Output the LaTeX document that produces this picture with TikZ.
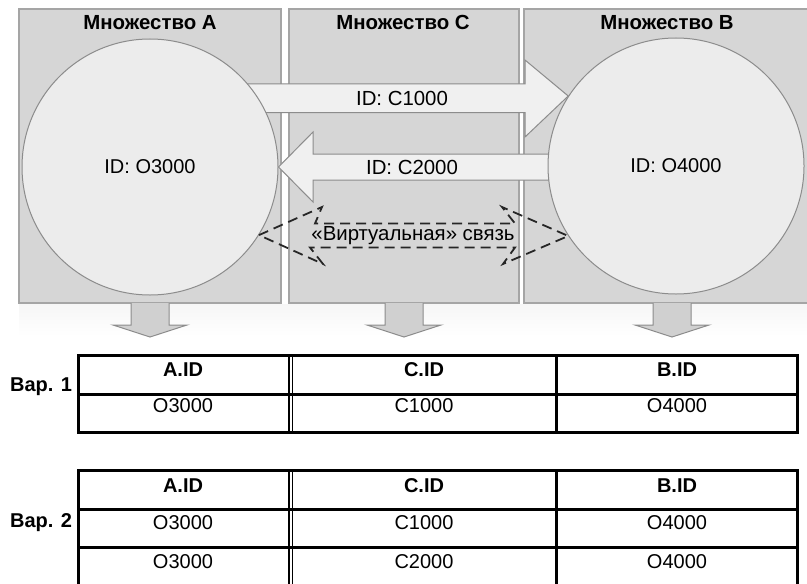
\documentclass[tikz,border=0pt]{standalone}
\usepackage{fontspec}
\setmainfont{Liberation Sans}
\usetikzlibrary{calc}
\definecolor{panelgray}{RGB}{214, 214, 214}
\definecolor{panelline}{RGB}{165, 165, 165}
\definecolor{blobfill}{RGB}{236, 236, 236}
\definecolor{blobline}{RGB}{140, 140, 140}
\definecolor{arrowfill}{RGB}{240, 240, 240}
\definecolor{downfill}{RGB}{208, 208, 208}

\begin{document}
\begin{tikzpicture}[
    x=0.5pt, y=-0.5pt,
    panel/.style={draw=panelline, fill=panelgray, line width=0.6pt},
    title/.style={anchor=base, font=\fontsize{10.2}{12}\selectfont\bfseries},
    blob/.style={circle, draw=blobline, fill=blobfill, line width=0.5pt,
                 minimum size=128pt, inner sep=0pt, font=\fontsize{10}{12}\selectfont},
    fat/.style={draw=blobline, fill=arrowfill, line width=0.5pt},
    down/.style={draw=blobline, fill=downfill, line width=0.5pt},
    virt/.style={draw=black!85, dash pattern=on 5pt off 3pt, line width=0.9pt},
    lbl/.style={font=\fontsize{10.2}{12}\selectfont},
    cell/.style={font=\fontsize{10}{12}\selectfont},
    hcell/.style={font=\fontsize{10}{12}\selectfont\bfseries},
    grid/.style={line width=1.5pt},
    dbl/.style={line width=0.9pt}
]
    \useasboundingbox (0,0) rectangle (807,583);

    % the three sets
    \draw[panel] (19,9) rectangle (281,303);
    \draw[panel] (289,9) rectangle (519,303);
    \draw[panel] (524,9) rectangle (830,303);
    \node[title] (tA) at (150,30) {Множество A};
    \node[title] (tC) at (403,30) {Множество C};
    \node[title] (tB) at (667,30) {Множество B};

    % faint reflection under the panels
    \shade[top color=gray!7, bottom color=white] (19,304) rectangle (807,336);
    \foreach \cx in {150,404,672}
        \draw[down] (\cx-19,303) -- (\cx-19,325) -- (\cx-37,325) -- (\cx,337)
                    -- (\cx+37,325) -- (\cx+19,325) -- (\cx+19,303);

    % circles (placed first so the arrows can use their anchors)
    \path (150,167) coordinate (cA) (676,166) coordinate (cB);
    \node[blob, draw=none, fill=none] (setA) at (cA) {};
    \node[blob, draw=none, fill=none] (setB) at (cB) {};

    % links through C
    \draw[fat] (200,84) -- (525,84) -- (525,60) -- (setB.147) -- (525,137)
               -- (525,112.7) -- (200,112.7) -- cycle;
    \draw[fat] (650,154) -- (313,154) -- (313,132) -- (setA.east) -- (313,202)
               -- (313,180) -- (650,180) -- cycle;

    \node[blob] at (cA) {ID: O3000};
    \node[blob] at (cB) {ID: O4000};
    \node[lbl] (c1) at (402,98) {ID: C1000};
    \node[lbl] (c2) at (412,167) {ID: C2000};

    % virtual link
    \draw[virt] (setA.-32.6) -- (322,207) -- (315,223.5) -- (515,223.5) -- (502,207)
                -- (setB.213) -- (503,264) -- (515,247.5) -- (310,247.5) -- (323,264) -- cycle;
    \node[lbl] (vl) at (413,236) {«Виртуальная» связь};

    % table 1
    \draw[grid] (78,355) rectangle (797,432);
    \draw[grid] (78,394) -- (797,394);
    \draw[grid] (556.5,355) -- (556.5,432);
    \draw[dbl] (289,355) -- (289,432);
    \draw[dbl] (292.5,355) -- (292.5,432);
    \node[hcell] (v1) at (41,387) {Вар. 1};
    \node[hcell] (h1a) at (183,370) {A.ID};
    \node[hcell] (h1c) at (424,370) {C.ID};
    \node[hcell] (h1b) at (677,370) {B.ID};
    \node[cell] (r1a) at (183,406) {O3000};
    \node[cell] (r1c) at (424,406) {C1000};
    \node[cell] (r1b) at (677,406) {O4000};

    % table 2
    \draw[grid] (78,595) -- (78,470) -- (797,470) -- (797,595);
    \draw[grid] (78,509) -- (797,509);
    \draw[grid] (78,547) -- (797,547);
    \draw[grid] (556.5,470) -- (556.5,595);
    \draw[dbl] (289,470) -- (289,595);
    \draw[dbl] (292.5,470) -- (292.5,595);
    \node[hcell] (v2) at (41,523) {Вар. 2};
    \node[hcell] (h2a) at (183,486) {A.ID};
    \node[hcell] (h2c) at (424,486) {C.ID};
    \node[hcell] (h2b) at (677,486) {B.ID};
    \node[cell] (r2a) at (183,523) {O3000};
    \node[cell] (r2c) at (424,523) {C1000};
    \node[cell] (r2b) at (677,523) {O4000};
    \node[cell] (r3a) at (183,562) {O3000};
    \node[cell] (r3c) at (424,562) {C2000};
    \node[cell] (r3b) at (677,562) {O4000};
\end{tikzpicture}
\end{document}
